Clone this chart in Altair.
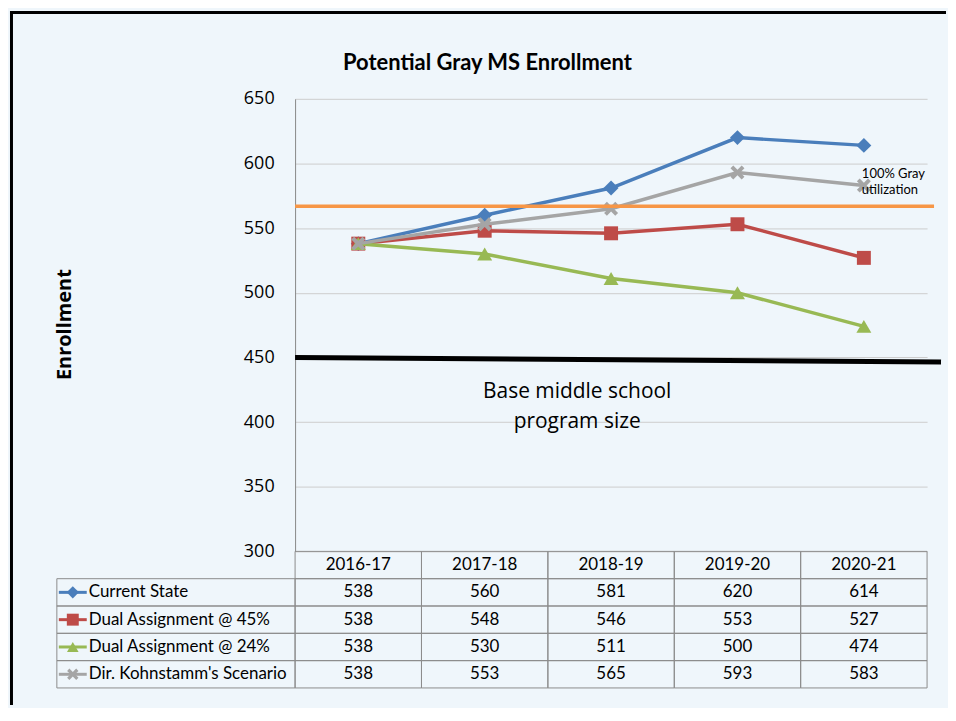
import altair as alt
import pandas as pd

# ---------------- data ----------------
years = ["2016-17", "2017-18", "2018-19", "2019-20", "2020-21"]
series_names = ["Current State", "Dual Assignment @ 45%", "Dual Assignment @ 24%", "Dir. Kohnstamm's Scenario"]
current_state = [538, 560, 581, 620, 614]
dual_45 = [538, 548, 546, 553, 527]
dual_24 = [538, 530, 511, 500, 474]
kohnstamm = [538, 553, 565, 593, 583]
capacity_value = [567]
base_program_values = [450, 446.5]
y_ticks = [300, 350, 400, 450, 500, 550, 600, 650]
chart_title = ["Potential Gray MS Enrollment"]
capacity_label = ["100% Gray\nutilization"]
capacity_label_y = [592]
base_label = ["Base middle school\nprogram size"]
base_label_y = [423]

# ---------------- styles ----------------
colors = ["#4a7ebb", "#be4b48", "#98b954", "#a5a5a5"]
X_PATH = "M0,-0.4L0.6,-1L1,-0.6L0.4,0L1,0.6L0.6,1L0,0.4L-0.6,1L-1,0.6L-0.4,0L-1,-0.6L-0.6,-1Z"
shapes = ["diamond", "square", "triangle-up", X_PATH]
sizes = [225, 196, 225, 196]
key_sizes = [150, 130, 150, 130]
BG = "#eff6fb"
GRID_C = "#8c8c8c"
W, H = 634, 454

values = [current_state, dual_45, dual_24, kohnstamm]
recs = []
for name, vals in zip(series_names, values):
    for yr, v in zip(years, vals):
        recs.append({"series": name, "year": yr, "value": v})
df = pd.DataFrame(recs)

xs = alt.Scale(type="point", domain=years, padding=0.5)
ys = alt.Scale(domain=[300, 650], nice=False, zero=False)
yaxis = alt.Axis(
    values=y_ticks, grid=True, gridColor="#cdcdcd", gridWidth=1,
    domain=True, domainColor="#888888", domainWidth=1, ticks=False,
    labelFont="Open Sans", labelFontSize=18, labelColor="black", labelPadding=21,
    title="Enrollment", titleFont="Open Sans", titleFontSize=20, titleFontWeight="bold",
    titleColor="black", titleX=-231, titleY=226, titleAngle=270,
    titleAlign="center", titleBaseline="middle",
)
X = alt.X("year:N", scale=xs, axis=None)
Y = alt.Y("value:Q", scale=ys, axis=yaxis)

one = pd.DataFrame({"k": [0]})

# invisible frame that fixes the slide extent (background colour comes from the top level)
frame = alt.Chart(one).mark_rect(opacity=0).encode(
    x=alt.value(-286), x2=alt.value(653), y=alt.value(-88), y2=alt.value(608))
border_top = alt.Chart(one).mark_rule(color="black", strokeWidth=3).encode(
    x=alt.value(-286), x2=alt.value(653), y=alt.value(-86.5))
border_left = alt.Chart(one).mark_rule(color="black", strokeWidth=3).encode(
    x=alt.value(-284.5), y=alt.value(-88), y2=alt.value(608))

title = alt.Chart(pd.DataFrame({"t": chart_title})).mark_text(
    font="Lato", fontSize=22, fontWeight="bold", color="black", align="center", baseline="middle"
).encode(text="t:N", x=alt.value(193), y=alt.value(-36))

layers = [frame, border_top, border_left, title]

for name, c, shp, sz in zip(series_names, colors, shapes, sizes):
    base = alt.Chart(df[df["series"] == name])
    layers.append(base.mark_line(color=c, strokeWidth=3.5).encode(x=X, y=Y))
    layers.append(base.mark_point(filled=True, opacity=1, color=c, shape=shp, size=sz).encode(x=X, y=Y))

cap = alt.Chart(pd.DataFrame({"value": capacity_value})).mark_rule(
    color="#f79646", strokeWidth=3.5).encode(y=Y, x=alt.value(0), x2=alt.value(641))
bl = alt.Chart(pd.DataFrame({"value": [base_program_values[0]], "v2": [base_program_values[1]]})).mark_rule(
    color="black", strokeWidth=5).encode(y=Y, y2="v2:Q", x=alt.value(0), x2=alt.value(648))

cap_txt = alt.Chart(pd.DataFrame({"t": capacity_label, "value": capacity_label_y, "year": [years[-1]]})).mark_text(
    font="Lato", fontSize=13, color="black", align="left", baseline="middle", lineBreak="\n",
    lineHeight=16, dx=-2
).encode(text="t:N", x=X, y=Y)
base_txt = alt.Chart(pd.DataFrame({"t": base_label, "value": base_label_y})).mark_text(
    font="Open Sans", fontSize=21, color="black", align="center", baseline="middle", lineBreak="\n",
    lineHeight=30
).encode(text="t:N", x=alt.value(283), y=Y)

layers += [cap, bl, cap_txt, base_txt]
top = alt.layer(*layers).properties(width=W, height=H)

# ---------------- data table ----------------
rows_dom = ["header"] + series_names
tx = alt.Scale(domain=years, paddingInner=0, paddingOuter=0)
ty = alt.Scale(domain=rows_dom, paddingInner=0, paddingOuter=0)
TX = alt.X("year:N", scale=tx, axis=None)
TY = alt.Y("row:N", scale=ty, axis=None)

cell_recs = [{"year": yr, "row": "header", "label": yr} for yr in years]
for name, vals in zip(series_names, values):
    for yr, v in zip(years, vals):
        cell_recs.append({"year": yr, "row": name, "label": str(v)})
cells = pd.DataFrame(cell_recs)
lab_df = pd.DataFrame({"row": series_names})

cscale = alt.Scale(domain=series_names, range=colors)
grid = alt.Chart(cells).mark_rect(filled=False, color=GRID_C, strokeWidth=1).encode(x=TX, y=TY)
nums = alt.Chart(cells).mark_text(font="Lato", fontSize=17, color="black").encode(x=TX, y=TY, text="label:N")
lab_cells = alt.Chart(lab_df).mark_rect(filled=False, color=GRID_C, strokeWidth=1).encode(
    x=alt.value(-239), x2=alt.value(0), y=TY)
lab_text = alt.Chart(lab_df).mark_text(align="left", font="Lato", fontSize=17, color="black").encode(
    x=alt.value(-207), y=TY, text="row:N")
key_line = alt.Chart(lab_df).mark_rule(strokeWidth=3).encode(
    x=alt.value(-237), x2=alt.value(-209), y=TY, color=alt.Color("row:N", scale=cscale, legend=None))
key_pt = alt.Chart(lab_df).mark_point(filled=True, opacity=1).encode(
    x=alt.value(-223), y=TY,
    color=alt.Color("row:N", scale=cscale, legend=None),
    shape=alt.Shape("row:N", scale=alt.Scale(domain=series_names, range=shapes), legend=None),
    size=alt.Size("row:N", scale=alt.Scale(domain=series_names, range=key_sizes), legend=None))

table = alt.layer(grid, nums, lab_cells, lab_text, key_line, key_pt).properties(width=W, height=137)

chart = alt.vconcat(top, table, spacing=0, bounds="flush").resolve_scale(
    x="independent", y="independent", color="independent", shape="independent", size="independent"
).properties(padding=0, background=BG).configure_view(stroke=None)

chart.save("out.html", embed_options={"renderer": "svg", "actions": False})
